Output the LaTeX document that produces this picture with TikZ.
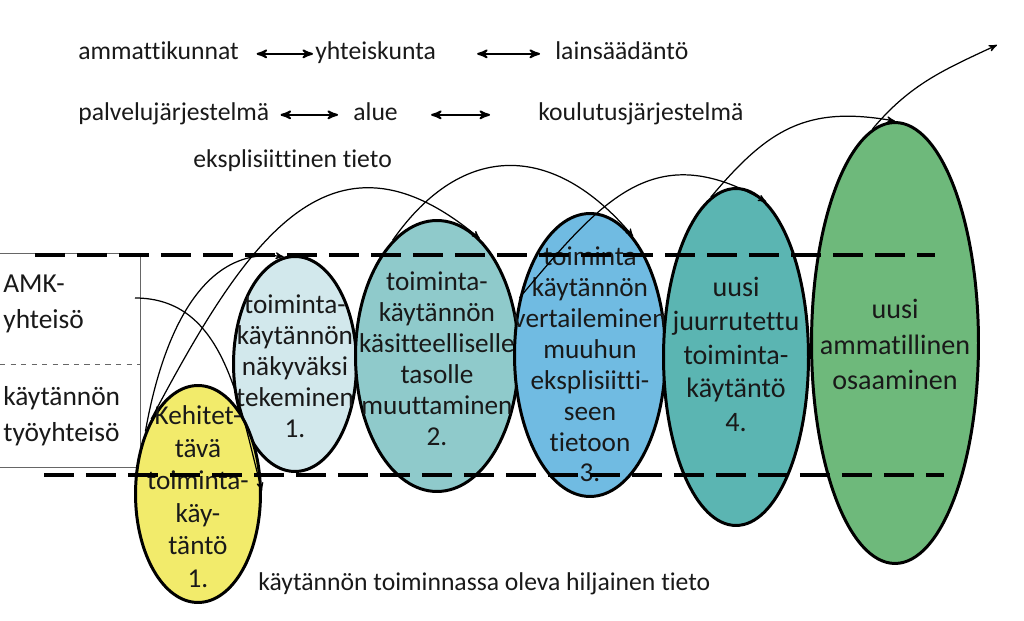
\documentclass[tikz,border=0pt]{standalone}
\usepackage{fontspec}
\setmainfont{Carlito}[Ligatures=NoCommon]
\usetikzlibrary{arrows,shapes.geometric}

\definecolor{kehitys}{HTML}{F2EB6B}
\definecolor{nakyvyys}{HTML}{D2E8EC}
\definecolor{kasite}{HTML}{8FCACB}
\definecolor{vertailu}{HTML}{70BBE2}
\definecolor{juurrutus}{HTML}{5BB5B2}
\definecolor{osaaminen}{HTML}{6EB97B}

\begin{document}
\begin{tikzpicture}[>=stealth',x=0.02cm,y=-0.02cm,
  stage/.style={ellipse,draw=black,line width=1.7pt,inner sep=0pt},
  stage text/.style={align=center,text=black!90,yshift=-0.05cm,
    font=\fontsize{15.5}{17.6}\selectfont},
  wide text/.style={stage text,font=\fontsize{16}{19.2}\selectfont},
  top text/.style={anchor=base west,inner sep=0pt,text height=7pt,
    text depth=0pt,text=black!90,font=\fontsize{14.6}{17}\selectfont},
  side text/.style={anchor=north west,align=left,inner sep=0pt,
    text=black!90,font=\fontsize{15.6}{20.5}\selectfont},
  link/.style={<->,line width=1.1pt},
  flow/.style={->,line width=0.7pt},
  level line/.style={line width=2.2pt,dash pattern=on 0.6cm off 0.24cm},
  box line/.style={line width=0.5pt,black!60}]

  \useasboundingbox (0,0) rectangle (1024,621);

  % top labels
  \node[top text] (AMM) at (78,60) {ammattikunnat};
  \node[top text] (YHT) at (315,60) {yhteiskunta};
  \node[top text] (LAI) at (555,60) {lainsäädäntö};
  \node[top text] (PAL) at (78,121) {palvelujärjestelmä};
  \node[top text] (ALU) at (353,121) {alue};
  \node[top text] (KOU) at (538,121) {koulutusjärjestelmä};
  \node[top text] (EKS) at (193,168) {eksplisiittinen tieto};
  \node[top text] (HIL) at (258,590) {käytännön toiminnassa oleva hiljainen tieto};

  \draw[link,shorten <=0.35cm,shorten >=0.04cm] (AMM) -- (YHT);
  \draw[link,shorten <=0.82cm,shorten >=0.3cm] (YHT) -- (LAI);
  \draw[link,shorten <=0.22cm,shorten >=0.3cm] (PAL) -- (ALU);
  \draw[link,shorten <=0.66cm,shorten >=0.96cm] (ALU) -- (KOU);

  % left box
  \draw[box line] (0,253) -| (140,467) -- (0,467);
  \draw[box line,dashed] (0,364) -- (140,364);
  \node[side text] (AMK) at (3,275) {AMK-\\yhteisö};
  \node[side text] (TYO) at (3,386) {käytännön\\työyhteisö};

  % stages
  \node[stage,fill=nakyvyys,minimum width=2.46cm,minimum height=4.3cm] (NT) at (295,364) {};
  \node[stage text] (NTtxt) at (NT) {toiminta-\\käytännön\\näkyväksi\\tekeminen\\1.};
  \node[stage,fill=kehitys,minimum width=2.5cm,minimum height=4.34cm] (KT) at (198,494) {};
  \node[stage text,font=\fontsize{15.5}{18.5}\selectfont] (KTtxt) at (KT) {Kehitet-\\tävä\\toiminta-\\käy-\\täntö\\1.};
  \node[stage,fill=kasite,minimum width=3.26cm,minimum height=5.42cm] (KM) at (437,356) {};
  \node[stage text] (KMtxt) at (KM) {toiminta-\\käytännön\\käsitteelliselle\\tasolle\\muuttaminen\\2.};
  \node[stage,fill=vertailu,minimum width=3.02cm,minimum height=5.66cm] (VE) at (590,355) {};
  \node[stage text,yshift=-0.14cm] (VEtxt) at (VE) {toiminta\\käytännön\\vertaileminen\\muuhun\\eksplisiitti-\\seen\\tietoon\\3.};
  \node[stage,fill=juurrutus,minimum width=2.9cm,minimum height=6.74cm] (JT) at (736,357) {};
  \node[wide text,yshift=0.1cm] (JTtxt) at (JT) {uusi\\juurrutettu\\toiminta-\\käytäntö\\4.};
  \node[stage,fill=osaaminen,minimum width=3.34cm,minimum height=8.82cm] (AO) at (895,343) {};
  \node[wide text,yshift=0.02cm,font=\fontsize{16}{20}\selectfont] (AOtxt) at (AO) {uusi\\ammatillinen\\osaaminen};

  % levels
  \draw[level line] (35,255) -- (935,255);
  \draw[level line] (44,475) -- (944,475);

  % flows
  \coordinate (AMKend) at (135,298);
  \coordinate (OUT) at (997,45);
  \draw[flow] (AMKend) to[out=0,in=105] (KT.3);
  \draw[flow] (KT.130) to[out=80,in=172] (NT.96);
  \draw[flow] (KT.122) to[out=62,in=140,looseness=1.35] (KM.70);
  \draw[flow] (KM.111) to[out=55,in=130,looseness=1.3] (VE.70);
  \draw[flow] (VE.141) to[out=50,in=150,looseness=1.25] (JT.79);
  \draw[flow] (JT.99) to[out=50,in=170,looseness=1.15] (AO.90);
  \draw[flow] (AO.96) to[out=50,in=205] (OUT);
\end{tikzpicture}
\end{document}
